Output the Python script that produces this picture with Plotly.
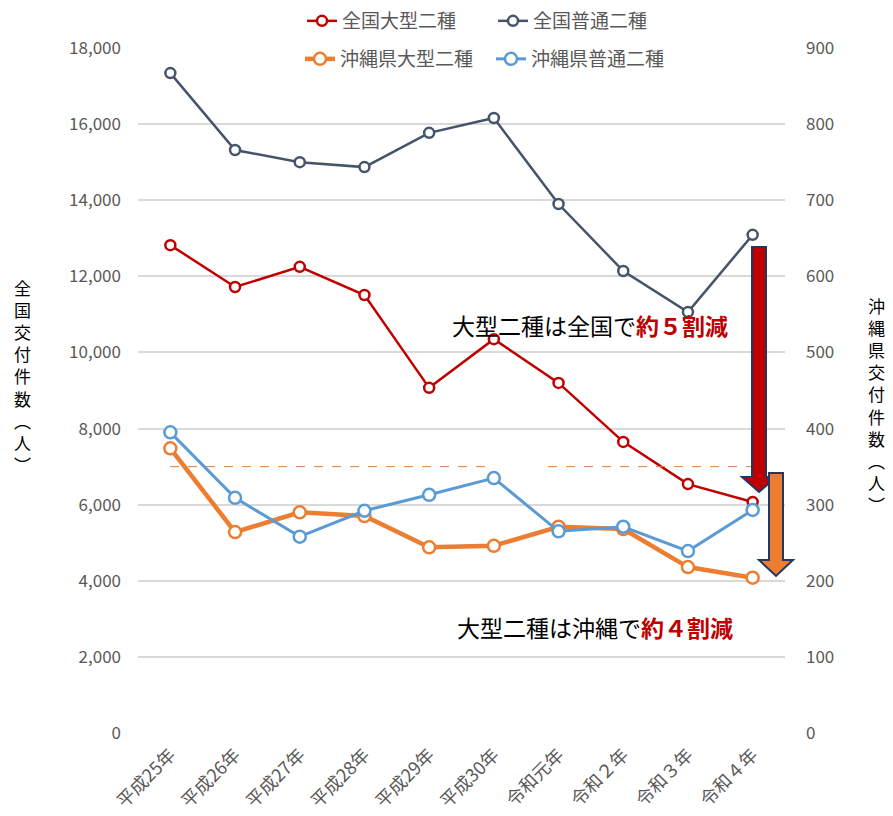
import plotly.graph_objects as go

categories = ["平成25年", "平成26年", "平成27年", "平成28年", "平成29年", "平成30年",
              "令和元年", "令和２年", "令和３年", "令和４年"]
zenkoku_oogata = [12820, 11720, 12250, 11510, 9070, 10350, 9200, 7650, 6540, 6070]
zenkoku_futsuu = [17340, 15320, 15000, 14870, 15770, 16160, 13900, 12140, 11060, 13090]
okinawa_oogata = [374, 264, 290, 285, 244, 246, 271, 268, 218, 204]
okinawa_futsuu = [395, 309, 258, 292, 313, 335, 265, 271, 239, 293]
left_ticks = list(range(0, 18001, 2000))
right_ticks = list(range(0, 901, 100))

# page has an 8px body margin: size the figure so it ends at the window edge
OFF = 8
SW, SH = 893, 816
W, H = SW - OFF, SH - OFF
# plot area in screen pixels
PL, PR, PT, PB = 138, 785, 48, 733
ML, MR, MT, MB = PL - OFF, SW - PR, PT - OFF, SH - PB
PW, PH = PR - PL, PB - PT

def px(x):
    return (x - PL) / PW

def py(y):
    return (PB - y) / PH

def poly(pts):
    return "M " + " L ".join(f"{px(a):.5f},{py(b):.5f}" for a, b in pts) + " Z"

FONT = "Noto Sans CJK JP"
GRAY = "#595959"

fig = go.Figure()
fig.add_trace(go.Scatter(x=categories, y=zenkoku_oogata, name="全国大型二種", mode="lines+markers",
                         line=dict(color="#C00000", width=2.5),
                         marker=dict(symbol="circle", size=10, color="white", line=dict(color="#C00000", width=2.5)),
                         legend="legend"))
fig.add_trace(go.Scatter(x=categories, y=zenkoku_futsuu, name="全国普通二種", mode="lines+markers",
                         line=dict(color="#44546A", width=2.5),
                         marker=dict(symbol="circle", size=10, color="white", line=dict(color="#44546A", width=2.5)),
                         legend="legend"))
fig.add_trace(go.Scatter(x=categories, y=okinawa_oogata, name="沖縄県大型二種", mode="lines+markers",
                         line=dict(color="#ED7D31", width=4.5), yaxis="y2",
                         marker=dict(symbol="circle", size=12, color="white", line=dict(color="#ED7D31", width=2.5)),
                         legend="legend2"))
fig.add_trace(go.Scatter(x=categories, y=okinawa_futsuu, name="沖縄県普通二種", mode="lines+markers",
                         line=dict(color="#5B9BD5", width=3), yaxis="y2",
                         marker=dict(symbol="circle", size=12, color="white", line=dict(color="#5B9BD5", width=2.5)),
                         legend="legend2"))

shapes = [
    dict(type="line", xref="paper", yref="y2", x0=px(170), x1=px(490), y0=350, y1=350,
         line=dict(color="#ED7D31", width=1, dash="dash")),
    dict(type="line", xref="paper", yref="y2", x0=px(548), x1=px(752), y0=350, y1=350,
         line=dict(color="#ED7D31", width=1, dash="dash")),
    dict(type="path", xref="paper", yref="paper",
         path=poly([(752, 247), (766, 247), (766, 477), (776, 477), (759, 492), (742, 477), (752, 477)]),
         fillcolor="#C00000", line=dict(color="#203864", width=2)),
    dict(type="path", xref="paper", yref="paper",
         path=poly([(769, 473), (783, 473), (783, 560), (793, 560), (776, 576), (759, 560), (769, 560)]),
         fillcolor="#ED7D31", line=dict(color="#203864", width=2)),
]

left_title = "<br>".join(list("全国交付件数") + ["︵", "人", "︶"])
right_title = "<br>".join(list("沖縄県交付件数") + ["︵", "人", "︶"])

annotations = [
    dict(text=left_title, xref="paper", yref="paper", x=px(22), y=py(376), showarrow=False,
         font=dict(family=FONT, size=17, color="black"), xanchor="center", yanchor="middle"),
    dict(text=right_title, xref="paper", yref="paper", x=px(876), y=py(405), showarrow=False,
         font=dict(family=FONT, size=17, color="black"), xanchor="center", yanchor="middle"),
    dict(text="大型二種は全国で<span style='color:#C00000'><b>約５割減</b></span>", xref="paper", yref="paper",
         x=px(590), y=py(325), showarrow=False, font=dict(family=FONT, size=23, color="black"),
         xanchor="center", yanchor="middle"),
    dict(text="大型二種は沖縄で<span style='color:#C00000'><b>約４割減</b></span>", xref="paper", yref="paper",
         x=px(595), y=py(627), showarrow=False, font=dict(family=FONT, size=23, color="black"),
         xanchor="center", yanchor="middle"),
]

fig.update_layout(
    width=W, height=H,
    margin=dict(l=ML, r=MR, t=MT, b=MB, autoexpand=False),
    plot_bgcolor="white", paper_bgcolor="white",
    font=dict(family=FONT, color=GRAY),
    xaxis=dict(type="category", range=[-0.5, len(categories) - 0.5], tickangle=-45,
               tickfont=dict(size=18, color=GRAY), ticklabelstandoff=7,
               showgrid=False, showline=False, ticks="", automargin=False),
    yaxis=dict(range=[0, 18000], tickvals=left_ticks, tickformat=",d",
               tickfont=dict(size=17, color=GRAY), showgrid=True, gridcolor="#D9D9D9",
               gridwidth=1.5, zeroline=False, showline=False, ticks="", ticklabelstandoff=16,
               automargin=False),
    yaxis2=dict(range=[0, 900], tickvals=right_ticks, overlaying="y", side="right",
                tickfont=dict(size=17, color=GRAY), showgrid=False, zeroline=False,
                showline=False, ticks="", ticklabelstandoff=20, automargin=False),
    legend=dict(orientation="h", x=px(302), y=py(21), xanchor="left", yanchor="middle",
                font=dict(size=19, color=GRAY), entrywidth=146, bgcolor="rgba(0,0,0,0)"),
    legend2=dict(orientation="h", x=px(300), y=py(59), xanchor="left", yanchor="middle",
                 font=dict(size=19, color=GRAY), entrywidth=146, bgcolor="rgba(0,0,0,0)"),
    shapes=shapes,
    annotations=annotations,
    showlegend=True,
)

fig.write_html("out.html")
